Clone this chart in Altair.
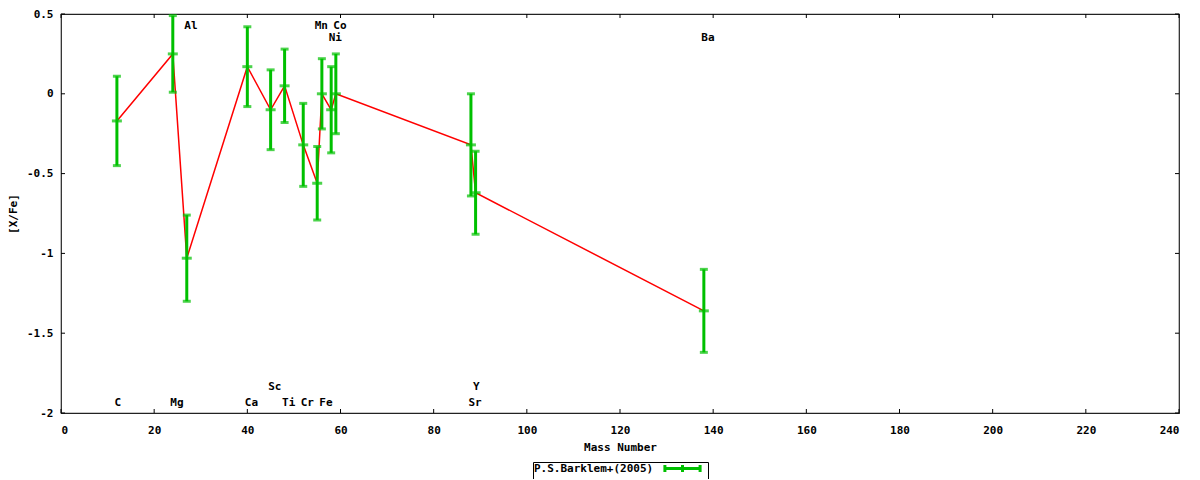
import altair as alt
import pandas as pd

# ---- data ----
elements = ["C", "Mg", "Al", "Ca", "Sc", "Ti", "Cr", "Mn", "Fe", "Ni", "Co", "Sr", "Y", "Ba"]
mass = [12, 24, 27, 40, 45, 48, 52, 55, 56, 58, 59, 88, 89, 138]
xfe = [-0.17, 0.25, -1.03, 0.17, -0.10, 0.05, -0.32, -0.56, 0.00, -0.10, 0.00, -0.32, -0.62, -1.36]
err = [0.28, 0.24, 0.27, 0.25, 0.25, 0.23, 0.26, 0.23, 0.22, 0.27, 0.25, 0.32, 0.26, 0.26]
label_y = [-1.94, -1.94, 0.425, -1.94, -1.84, -1.94, -1.94, 0.425, -1.94, 0.35, 0.425, -1.94, -1.84, 0.35]
series_name = "P.S.Barklem+(2005)"

x_ticks = [0, 20, 40, 60, 80, 100, 120, 140, 160, 180, 200, 220, 240]
y_ticks = [0.5, 0, -0.5, -1, -1.5, -2]

W, H = 1118, 399
FONT = "DejaVu Sans Mono"
GREEN = "#00c000"
RED = "#ff0000"

df = pd.DataFrame({"element": elements, "mass": mass, "xfe": xfe, "err": err,
                   "label_y": label_y, "series": series_name})
dxt = pd.DataFrame({"t": x_ticks})
dyt = pd.DataFrame({"t": y_ticks})

xscale = alt.Scale(domain=[0, 240], nice=False, zero=False)
yscale = alt.Scale(domain=[-2, 0.5], nice=False, zero=False)

xaxis = alt.Axis(values=x_ticks, grid=False, ticks=False, tickSize=0, domain=False,
                 labelPadding=11, labelFont=FONT, labelFontSize=11, labelFontWeight="bold",
                 labelColor="black", labelExpr="'' + datum.value",
                 title="Mass Number", titleFont=FONT, titleFontSize=11, titleFontWeight="bold",
                 titleColor="black", titleY=34, titleBaseline="middle")
yaxis = alt.Axis(values=y_ticks, grid=False, ticks=False, tickSize=0, domain=False,
                 labelPadding=8, labelFont=FONT, labelFontSize=11, labelFontWeight="bold",
                 labelColor="black", labelExpr="'' + datum.value",
                 title="[X/Fe]", titleFont=FONT, titleFontSize=11, titleFontWeight="bold",
                 titleColor="black", titleAngle=270, titleX=-48, titleY=H / 2,
                 titleBaseline="middle", titleAlign="center")

base = alt.Chart(df)

line = base.mark_line(color=RED, strokeWidth=1.5).encode(
    x=alt.X("mass:Q", scale=xscale, axis=xaxis),
    y=alt.Y("xfe:Q", scale=yscale, axis=yaxis),
)

legend_path = "M-4.4,0H4.4M-4.4,-0.9V0.9M0,-0.9V0.9M4.4,-0.9V0.9"

bars = base.transform_calculate(
    lo="datum.xfe - datum.err", hi="datum.xfe + datum.err"
).mark_rule(strokeWidth=3).encode(
    x=alt.X("mass:Q", scale=xscale),
    y=alt.Y("lo:Q", scale=yscale),
    y2="hi:Q",
    color=alt.Color("series:N", scale=alt.Scale(domain=[series_name], range=[GREEN]),
                    legend=alt.Legend(title=None, orient="none", legendX=472, legendY=448,
                                      symbolType=legend_path, symbolSize=64,
                                      symbolStrokeWidth=3, symbolOffset=143,
                                      labelOffset={"expr": "-154"},
                                      labelFont=FONT, labelFontSize=11, labelFontWeight="bold",
                                      labelColor="black", padding=1, strokeColor="black",
                                      symbolStrokeColor=GREEN)),
)

caps_lo = base.transform_calculate(lo="datum.xfe - datum.err").mark_tick(
    color=GREEN, orient="horizontal", size=8, thickness=3).encode(
    x=alt.X("mass:Q", scale=xscale), y=alt.Y("lo:Q", scale=yscale))
caps_hi = base.transform_calculate(hi="datum.xfe + datum.err").mark_tick(
    color=GREEN, orient="horizontal", size=8, thickness=3).encode(
    x=alt.X("mass:Q", scale=xscale), y=alt.Y("hi:Q", scale=yscale))
centers = base.mark_tick(color=GREEN, orient="horizontal", size=10, thickness=3).encode(
    x=alt.X("mass:Q", scale=xscale), y=alt.Y("xfe:Q", scale=yscale))

labels = base.mark_text(align="left", baseline="middle", dx=-2.5, font=FONT, fontSize=11,
                        fontWeight="bold", color="black").encode(
    x=alt.X("mass:Q", scale=xscale), y=alt.Y("label_y:Q", scale=yscale), text="element:N")

TL = 4
xt_bot = alt.Chart(dxt).mark_rule(color="black", strokeWidth=1).encode(
    x=alt.X("t:Q", scale=xscale), y=alt.value(H), y2=alt.value(H - TL))
xt_top = alt.Chart(dxt).mark_rule(color="black", strokeWidth=1).encode(
    x=alt.X("t:Q", scale=xscale), y=alt.value(0), y2=alt.value(TL))
yt_left = alt.Chart(dyt).mark_rule(color="black", strokeWidth=1).encode(
    y=alt.Y("t:Q", scale=yscale), x=alt.value(0), x2=alt.value(TL))
yt_right = alt.Chart(dyt).mark_rule(color="black", strokeWidth=1).encode(
    y=alt.Y("t:Q", scale=yscale), x=alt.value(W), x2=alt.value(W - TL))

chart = alt.layer(line, xt_bot, xt_top, yt_left, yt_right, bars, caps_lo, caps_hi, centers,
                  labels).properties(
    width=W, height=H, autosize="none",
    padding={"left": 53, "top": 6, "right": 13, "bottom": 66},
    background="white",
).configure_view(stroke="#222222", strokeWidth=1.2)

chart.save("out.html", embed_options={"renderer": "svg", "actions": False})
